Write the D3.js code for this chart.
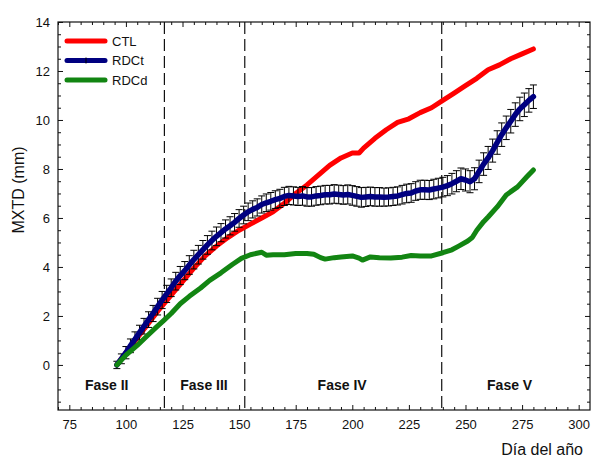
<!DOCTYPE html>
<html>
<head>
<meta charset="utf-8">
<script src="https://cdn.jsdelivr.net/npm/d3@7"></script>
<style>
  body { margin: 0; background: #fff; }
  text { font-family: Arial, 'Liberation Sans', sans-serif; fill: #111; }
</style>
</head>
<body>
<div id="chart"></div>
<script>
// CTL (red)
var ctlDays = [96, 100, 105, 110, 115, 120, 125, 130, 135, 140, 145, 150, 155, 160, 165, 170, 175, 180,
  185, 190, 195, 200, 203, 205, 210, 215, 220, 225, 230, 235, 240, 245, 250, 255, 260, 265, 270, 275, 280];
var ctlValues = [0, 0.5, 1.1, 1.7, 2.3, 2.85, 3.4, 3.95, 4.45, 4.85, 5.2, 5.5, 5.75, 6.0, 6.25, 6.6, 7.0, 7.35,
  7.75, 8.15, 8.45, 8.65, 8.65, 8.85, 9.25, 9.6, 9.9, 10.05, 10.3, 10.5, 10.8, 11.1, 11.4, 11.7, 12.05, 12.25, 12.5, 12.7, 12.9];

// RDCt (navy) with error bars, one reading every 2 days from day 96 to 280
var rdctDays = d3.range(96, 281, 2);
var rdctValues = [
  0.0, 0.25, 0.5, 0.78, 1.05, 1.32, 1.58, 1.85, 2.1, 2.38,
  2.65, 2.9, 3.15, 3.42, 3.65, 3.85, 4.08, 4.3, 4.5, 4.7,
  4.9, 5.08, 5.25, 5.4, 5.55, 5.68, 5.82, 5.98, 6.12, 6.25,
  6.35, 6.43, 6.55, 6.62, 6.68, 6.75, 6.8, 6.88, 6.92, 6.9,
  6.88, 6.9, 6.86, 6.86, 6.9, 6.92, 6.95, 6.95, 6.98, 6.96,
  6.94, 6.96, 6.92, 6.88, 6.84, 6.86, 6.88, 6.86, 6.86, 6.85,
  6.86, 6.88, 6.9, 6.95, 7.0, 7.02, 7.1, 7.15, 7.15, 7.14,
  7.18, 7.22, 7.26, 7.32, 7.4, 7.5, 7.6, 7.55, 7.48, 7.6,
  7.9, 8.2, 8.45, 8.75, 9.08, 9.4, 9.68, 9.95, 10.22, 10.45,
  10.62, 10.8, 10.95];
var rdctErrors = [
  0.15, 0.2, 0.25, 0.28, 0.3, 0.3, 0.32, 0.32, 0.33, 0.34,
  0.35, 0.35, 0.36, 0.36, 0.37, 0.37, 0.38, 0.38, 0.38, 0.38,
  0.38, 0.38, 0.38, 0.37, 0.37, 0.37, 0.36, 0.36, 0.36, 0.36,
  0.35, 0.35, 0.35, 0.36, 0.36, 0.36, 0.37, 0.37, 0.37, 0.37,
  0.37, 0.38, 0.38, 0.38, 0.38, 0.38, 0.38, 0.38, 0.38, 0.38,
  0.38, 0.39, 0.4, 0.4, 0.4, 0.39, 0.38, 0.38, 0.38, 0.37,
  0.37, 0.37, 0.37, 0.38, 0.38, 0.38, 0.38, 0.39, 0.39, 0.39,
  0.4, 0.4, 0.4, 0.41, 0.42, 0.43, 0.44, 0.45, 0.45, 0.45,
  0.46, 0.46, 0.47, 0.47, 0.48, 0.48, 0.48, 0.48, 0.48, 0.48,
  0.48, 0.48, 0.48];

// RDCd (green)
var rdcdDays = [96, 100, 105, 109, 113, 117, 120, 124, 128, 133, 137, 142, 147, 151, 155, 160, 162, 165,
  170, 175, 180, 183, 186, 188, 192, 195, 200, 203, 204.5, 208, 212, 217, 222, 226, 230, 235, 240,
  244, 247, 251, 253, 255, 258, 260, 264, 268, 273, 277, 280];
var rdcdValues = [0, 0.4, 0.8, 1.15, 1.5, 1.84, 2.1, 2.5, 2.8, 3.14, 3.45, 3.76, 4.1, 4.35, 4.5, 4.6, 4.48, 4.5,
  4.5, 4.55, 4.55, 4.52, 4.38, 4.32, 4.38, 4.41, 4.45, 4.36, 4.28, 4.41, 4.38, 4.37, 4.4, 4.47, 4.45, 4.45, 4.58,
  4.7, 4.85, 5.06, 5.2, 5.5, 5.85, 6.04, 6.45, 6.94, 7.27, 7.67, 7.96];

// Phase boundaries and labels
var phaseBounds = [117, 152.5, 239.5];
var phaseNames = ['Fase II', 'Fase III', 'Fase IV', 'Fase V'];
var phaseLabelDays = [91.5, 134.5, 195.5, 269.5];

var xTicks = [75, 100, 125, 150, 175, 200, 225, 250, 275, 300];
var yTicks = [0, 2, 4, 6, 8, 10, 12, 14];

var seriesNames = ['CTL', 'RDCt', 'RDCd'];
var seriesColours = ['#ff0000', '#000080', '#128512'];

function zip(days, values, errors) {
  return days.map((d, i) => ({ day: d, value: values[i], err: errors ? errors[i] : 0 }));
}

function createChart() {
  var canvasWidth = 604;
  var canvasHeight = 459;

  var margin = { top: 22, right: 14, left: 58, bottom: 49 };

  var w = canvasWidth - margin.left - margin.right;
  var h = canvasHeight - margin.top - margin.bottom;

  var svg = d3.select('#chart')
    .append('svg')
    .attr('width', canvasWidth)
    .attr('height', canvasHeight);

  var g = svg.append('g')
    .attr('transform', 'translate(' + margin.left + ',' + margin.top + ')');

  var x = d3.scaleLinear().domain([70, 305]).range([0, w]);
  var y = d3.scaleLinear().domain([-1.84, 14]).range([h, 0]);

  // Minor and major ticks, pointing inwards on every side
  var xMinor = d3.range(70, 305, 5).filter(v => xTicks.indexOf(v) < 0);
  var yMinor = d3.range(-1.5, 14, 0.5).filter(v => yTicks.indexOf(v) < 0);

  function tickAxis(axis, vals, size, labelled, pad) {
    axis.tickValues(vals).tickSize(size).tickSizeOuter(0).tickPadding(pad || 3);
    if(!labelled) {
      axis.tickFormat('');
    }
    return axis;
  }

  g.append('g').attr('transform', 'translate(0,' + h + ')')
    .call(tickAxis(d3.axisBottom(x), xTicks, -5, true, 10));
  g.append('g').attr('transform', 'translate(0,' + h + ')')
    .call(tickAxis(d3.axisBottom(x), xMinor, -3, false));
  g.append('g').call(tickAxis(d3.axisTop(x), xTicks, -5, false));
  g.append('g').call(tickAxis(d3.axisTop(x), xMinor, -3, false));

  g.append('g').call(tickAxis(d3.axisLeft(y), yTicks, -5, true, 8));
  g.append('g').call(tickAxis(d3.axisLeft(y), yMinor, -3, false));
  g.append('g').attr('transform', 'translate(' + w + ',0)')
    .call(tickAxis(d3.axisRight(y), yTicks, -5, false));
  g.append('g').attr('transform', 'translate(' + w + ',0)')
    .call(tickAxis(d3.axisRight(y), yMinor, -3, false));

  g.selectAll('.domain').remove();
  g.selectAll('.tick line').attr('stroke', '#111');
  g.selectAll('.tick text')
    .style('font-size', '13px')
    .style('font-family', "Arial, 'Liberation Sans', sans-serif")
    .attr('fill', '#222');

  // Frame
  g.append('rect')
    .attr('width', w)
    .attr('height', h)
    .attr('fill', 'none')
    .attr('stroke', '#111')
    .attr('stroke-width', 1.2);

  // Dashed phase boundaries
  g.selectAll('line.phase')
    .data(phaseBounds)
    .enter()
    .append('line')
    .attr('class', 'phase')
    .attr('x1', d => x(d))
    .attr('x2', d => x(d))
    .attr('y1', 0)
    .attr('y2', h)
    .attr('stroke', '#111')
    .attr('stroke-width', 1.2)
    .attr('stroke-dasharray', '12,5');

  g.selectAll('text.phase')
    .data(phaseNames)
    .enter()
    .append('text')
    .attr('class', 'phase')
    .attr('x', (d, i) => x(phaseLabelDays[i]))
    .attr('y', 368)
    .attr('text-anchor', 'middle')
    .style('font-size', '14px')
    .style('font-weight', 'bold')
    .text(d => d);

  var line = d3.line()
    .x(d => x(d.day))
    .y(d => y(d.value));

  var ctl = zip(ctlDays, ctlValues);
  var rdct = zip(rdctDays, rdctValues, rdctErrors);
  var rdcd = zip(rdcdDays, rdcdValues);

  g.append('path')
    .datum(ctl)
    .attr('d', line)
    .attr('fill', 'none')
    .attr('stroke', seriesColours[0])
    .attr('stroke-width', 5)
    .attr('stroke-linejoin', 'round')
    .attr('stroke-linecap', 'round');

  // Error bars for RDCt
  var bars = g.append('g').attr('class', 'errbars');
  bars.selectAll('line.bar')
    .data(rdct)
    .enter()
    .append('line')
    .attr('x1', d => x(d.day))
    .attr('x2', d => x(d.day))
    .attr('y1', d => y(d.value - d.err))
    .attr('y2', d => y(d.value + d.err))
    .attr('stroke', '#000')
    .attr('stroke-width', 1);
  [1, -1].forEach(sign => {
    bars.selectAll('line.cap' + sign)
      .data(rdct)
      .enter()
      .append('line')
      .attr('x1', d => x(d.day) - 3.5)
      .attr('x2', d => x(d.day) + 3.5)
      .attr('y1', d => y(d.value + sign * d.err))
      .attr('y2', d => y(d.value + sign * d.err))
      .attr('stroke', '#000')
      .attr('stroke-width', 1);
  });

  g.append('path')
    .datum(rdct)
    .attr('d', line)
    .attr('fill', 'none')
    .attr('stroke', seriesColours[1])
    .attr('stroke-width', 5.5)
    .attr('stroke-linejoin', 'round')
    .attr('stroke-linecap', 'round');

  g.append('path')
    .datum(rdcd)
    .attr('d', line)
    .attr('fill', 'none')
    .attr('stroke', seriesColours[2])
    .attr('stroke-width', 5)
    .attr('stroke-linejoin', 'round')
    .attr('stroke-linecap', 'round');

  // Legend
  var legend = svg.append('g').attr('transform', 'translate(67,41)');
  seriesNames.forEach((name, i) => {
    var row = legend.append('g').attr('transform', 'translate(0,' + (i * 19.5) + ')');
    row.append('line')
      .attr('x1', 0).attr('x2', 38)
      .attr('stroke', seriesColours[i])
      .attr('stroke-width', 5)
      .attr('stroke-linecap', 'round');
    if(name === 'RDCt') {
      row.append('line')
        .attr('x1', 19).attr('x2', 19)
        .attr('y1', -3).attr('y2', 3)
        .attr('stroke', '#000');
    }
    row.append('text')
      .attr('x', 45)
      .attr('y', 4.5)
      .style('font-size', '13px')
      .text(name);
  });

  // Axis titles
  svg.append('text')
    .attr('transform', 'translate(24,190) rotate(-90)')
    .attr('text-anchor', 'middle')
    .style('font-size', '16px')
    .attr('fill', '#222')
    .text('MXTD (mm)');

  svg.append('text')
    .attr('x', 583)
    .attr('y', 455)
    .attr('text-anchor', 'end')
    .style('font-size', '16px')
    .attr('fill', '#222')
    .text('Día del año');
}

createChart();
</script>
</body>
</html>
